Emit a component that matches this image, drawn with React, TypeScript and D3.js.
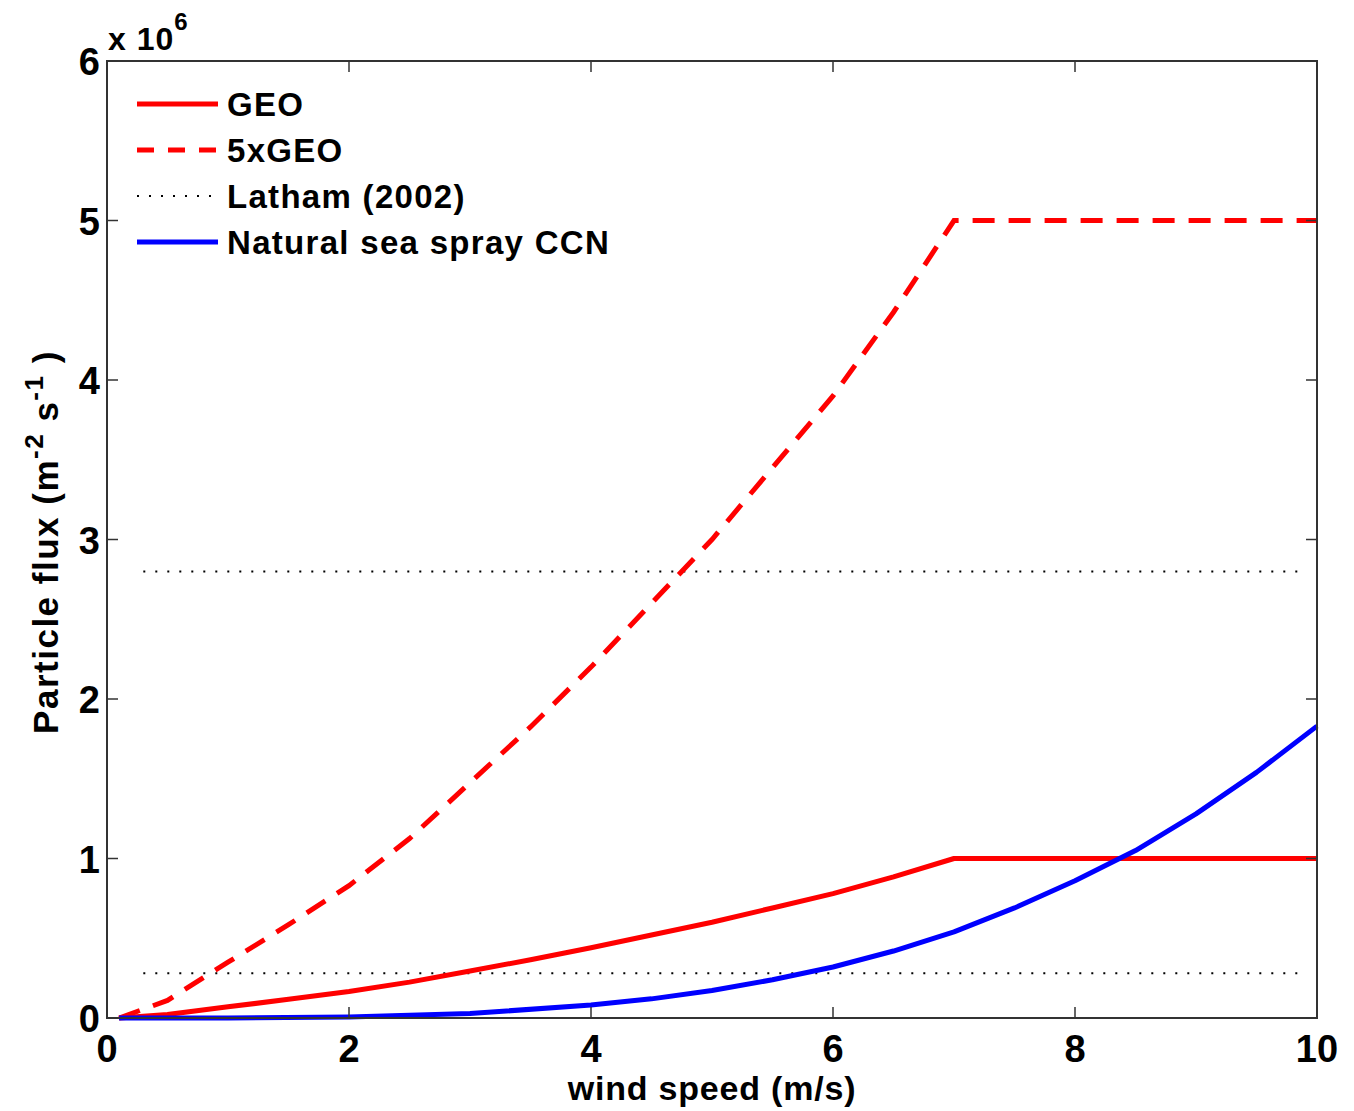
import React from "react";
import * as d3 from "d3";

const windSpeed = [0.1, 0.5, 1, 1.5, 2, 2.5, 3, 3.5, 4, 4.5, 5, 5.5, 6, 6.5, 7, 10];
const geo = [0.0, 0.022, 0.07, 0.117, 0.166, 0.225, 0.295, 0.365, 0.44, 0.52, 0.6, 0.69, 0.78, 0.885, 1.0, 1.0];
const geo5 = [0.0, 0.11, 0.35, 0.585, 0.83, 1.125, 1.475, 1.825, 2.2, 2.6, 3.0, 3.45, 3.9, 4.425, 5.0, 5.0];
const seaSpeed = [0.1, 1, 2, 3, 4, 4.5, 5, 5.5, 6, 6.5, 7, 7.5, 8, 8.5, 9, 9.5, 10];
const seaSpray = [0.0, 0.0005, 0.007, 0.028, 0.081, 0.12, 0.172, 0.24, 0.32, 0.42, 0.54, 0.69, 0.86, 1.05, 1.28, 1.54, 1.83];
const lathamX = [0.3, 9.9];
const lathamLevels = [2.8, 0.28];
const xTicks = [0, 2, 4, 6, 8, 10];
const yTicks = [0, 1, 2, 3, 4, 5, 6];
const legendItems = ["GEO", "5xGEO", "Latham (2002)", "Natural sea spray CCN"];

export default function App() {
  const left = 107, right = 1317, top = 61, bottom = 1018;
  const x = d3.scaleLinear().domain([0, 10]).range([left, right]);
  const y = d3.scaleLinear().domain([0, 6]).range([bottom, top]);
  const line = d3.line<[number, number]>().x((d) => x(d[0])).y((d) => y(d[1]));
  const zip = (a: number[], b: number[]) => a.map((v, i) => [v, b[i]] as [number, number]);
  const font = "'Liberation Sans', Arial, sans-serif";
  const axisColor = "#333";
  const tickLen = 11;
  const legendStyles = [
    { stroke: "#ff0000", dash: undefined, width: 5 },
    { stroke: "#ff0000", dash: "17 14", width: 5 },
    { stroke: "#000", dash: "2 10", width: 2 },
    { stroke: "#0000ff", dash: undefined, width: 5 },
  ];
  return (
    <svg width={1354} height={1111} style={{ position: "absolute", left: 0, top: 0, background: "#fff" }}>
      <rect x={0} y={0} width={1354} height={1111} fill="#fff" />
      {lathamLevels.map((lv, i) => (
        <path key={"l" + i} d={line(lathamX.map((v) => [v, lv] as [number, number]))!} stroke="#000" strokeWidth={2} strokeDasharray="2 10" fill="none" />
      ))}
      <path d={line(zip(windSpeed, geo5))!} stroke="#ff0000" strokeWidth={5} strokeDasharray="22 14" fill="none" />
      <path d={line(zip(windSpeed, geo))!} stroke="#ff0000" strokeWidth={5} fill="none" strokeLinejoin="round" />
      <path d={line(zip(seaSpeed, seaSpray))!} stroke="#0000ff" strokeWidth={5} fill="none" strokeLinejoin="round" />
      <rect x={left} y={top} width={right - left} height={bottom - top} fill="none" stroke={axisColor} strokeWidth={2} />
      {xTicks.map((t) => (
        <g key={"x" + t}>
          <line x1={x(t)} x2={x(t)} y1={bottom} y2={bottom - tickLen} stroke={axisColor} strokeWidth={1.5} />
          <line x1={x(t)} x2={x(t)} y1={top} y2={top + tickLen} stroke={axisColor} strokeWidth={1.5} />
          <text x={x(t)} y={1062} textAnchor="middle" fontFamily={font} fontWeight="bold" fontSize={38}>{t}</text>
        </g>
      ))}
      {yTicks.map((t) => (
        <g key={"y" + t}>
          <line x1={left} x2={left + tickLen} y1={y(t)} y2={y(t)} stroke={axisColor} strokeWidth={1.5} />
          <line x1={right} x2={right - tickLen} y1={y(t)} y2={y(t)} stroke={axisColor} strokeWidth={1.5} />
          <text x={100} y={y(t) + 14} textAnchor="end" fontFamily={font} fontWeight="bold" fontSize={38}>{t}</text>
        </g>
      ))}
      <text x={108} y={50} fontFamily={font} fontWeight="bold" fontSize={32} letterSpacing={1}>x 10<tspan dy={-20} fontSize={24}>6</tspan></text>
      <text x={712} y={1100} textAnchor="middle" fontFamily={font} fontWeight="bold" fontSize={34} letterSpacing={0.8}>wind speed (m/s)</text>
      <text transform="translate(58,542) rotate(-90)" textAnchor="middle" fontFamily={font} fontWeight="bold" fontSize={35} letterSpacing={1.5}>
        Particle flux (m<tspan dy={-15} fontSize={26}>-2</tspan><tspan dy={15}> s</tspan><tspan dy={-15} fontSize={26}>-1</tspan><tspan dy={15}> )</tspan>
      </text>
      {legendItems.map((name, i) => {
        const cy = 104 + i * 46;
        const s = legendStyles[i];
        return (
          <g key={name}>
            <line x1={137} x2={218} y1={cy} y2={cy} stroke={s.stroke} strokeWidth={s.width} strokeDasharray={s.dash} />
            <text x={227} y={cy + 12} fontFamily={font} fontWeight="bold" fontSize={33} letterSpacing={1.3}>{name}</text>
          </g>
        );
      })}
    </svg>
  );
}
